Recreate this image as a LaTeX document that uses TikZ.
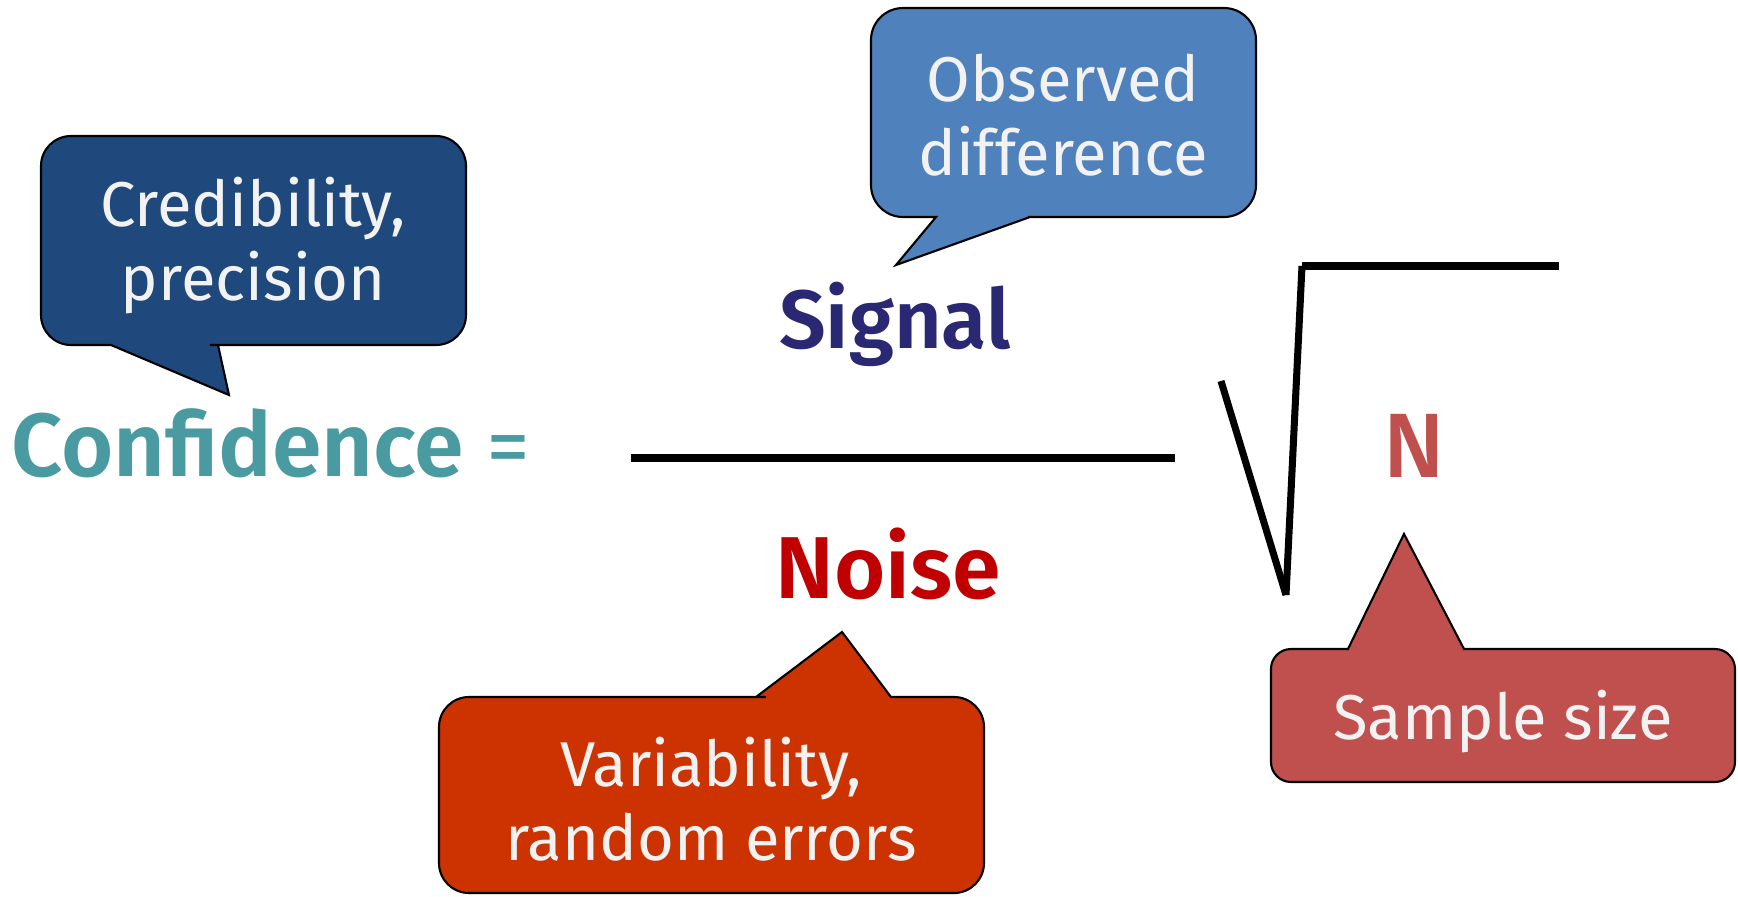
\documentclass[tikz,border=0pt]{standalone}
\usepackage{fontspec}
\setmainfont{Fira Sans}[BoldFont={Fira Sans SemiBold}]
\newfontfamily\mediumfont{Fira Sans Medium}
\usepackage{tikz}
\usetikzlibrary{positioning}

\definecolor{credblue}{HTML}{1F497D}
\definecolor{obsblue}{HTML}{4F81BD}
\definecolor{varred}{HTML}{CC3300}
\definecolor{samplered}{HTML}{C0504D}
\definecolor{confteal}{HTML}{4A9AA1}
\definecolor{signalnavy}{HTML}{2A2872}
\definecolor{noisered}{HTML}{C00000}
\definecolor{bubbletext}{HTML}{F2F2F2}

\tikzset{
  bubble/.style={draw=black, line width=0.6pt},
  bubbletxt/.style={text=bubbletext, align=center, inner sep=0pt, font=\fontsize{18}{21}\selectfont},
  rootline/.style={line width=2pt},
  bigword/.style={inner sep=0pt, font=\fontsize{#1}{30}\selectfont\bfseries},
}

\begin{document}
\begin{tikzpicture}[x=0.01cm, y=-0.01cm]
    \useasboundingbox (0,0) rectangle (1738,896);

    % Formula
    \node[bigword=25.5, text=confteal, anchor=base west] (conf) at (11,476) {Confidence};
    \node[right=0.21cm of conf.base east, anchor=base west, inner sep=0pt, text=confteal, font=\fontsize{25}{30}\selectfont] (eq) {=};
    \coordinate (barL) at (631,458);
    \coordinate (barR) at (1175,458);
    \draw[line width=2pt] (barL) -- (barR);
    \node[bigword=23.5, text=signalnavy, anchor=base] (signal) at (895,348) {Signal};
    \node[bigword=25, text=noisered, anchor=base] (noise) at (888,598) {Noise};

    % Square root of N
    \coordinate (rootA) at (1221,381);
    \coordinate (rootB) at (1286,595);
    \coordinate (rootC) at (1302,266);
    \coordinate (rootD) at (1559,266);
    \draw[rootline] (rootA) -- (rootB);
    \draw[rootline] (rootB) -- (rootC);
    \draw[rootline] (rootC) -- (rootD);
    \node[anchor=base, inner sep=0pt, text=samplered, font=\fontsize{26}{30}\selectfont\mediumfont] (n) at (1414,477) {N};

    % Credibility callout
    \draw[bubble, fill=credblue, rounded corners=0.3cm]
        (253,136) -- (466,136) -- (466,345) -- (240,345) [sharp corners] -- (218,345)
        -- (229,395) -- (111,345) -- (91,345) [rounded corners=0.3cm] -- (41,345) -- (41,136) -- cycle;
    \node[bubbletxt, anchor=base] (cred) at (253,300) {Credibility,\\precision};

    % Observed difference callout
    \draw[bubble, fill=obsblue, rounded corners=0.32cm]
        (1063,8) -- (1256,8) -- (1256,217) -- (1060,217) [sharp corners] -- (1030,217)
        -- (896,265) -- (936,217) -- (916,217) [rounded corners=0.32cm] -- (871,217) -- (871,8) -- cycle;
    \node[bubbletxt, anchor=base] (obs) at (1063,175) {Observed\\difference};

    % Variability callout
    \draw[bubble, fill=varred, rounded corners=0.3cm]
        (711,893) -- (439,893) -- (439,697) -- (736,697) [sharp corners] -- (756,697)
        -- (842,632) -- (891,697) -- (911,697) [rounded corners=0.3cm] -- (984,697) -- (984,893) -- cycle;
    \node[bubbletxt, anchor=base] (var) at (711,860) {Variability,\\random errors};

    % Sample size callout
    \draw[bubble, fill=samplered, rounded corners=0.2cm]
        (1503,782) -- (1271,782) -- (1271,649) -- (1320,649) [sharp corners] -- (1348,649)
        -- (1404,534) -- (1464,649) -- (1490,649) [rounded corners=0.2cm] -- (1735,649) -- (1735,782) -- cycle;
    \node[bubbletxt, anchor=base] (sample) at (1503,739) {Sample size};
\end{tikzpicture}
\end{document}
